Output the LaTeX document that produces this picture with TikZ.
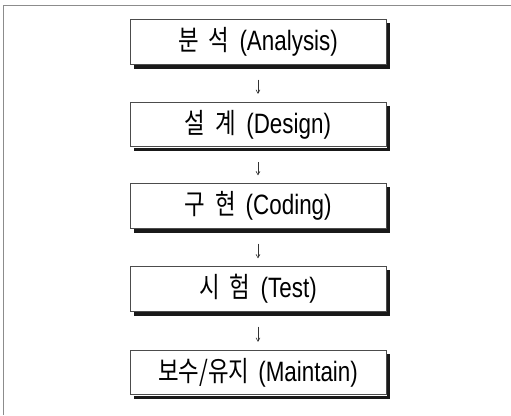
\documentclass[tikz,border=0pt]{standalone}
\usepackage{fontspec}
\setmainfont{Liberation Sans}
\newfontfamily\kr{Noto Sans CJK KR}
\usetikzlibrary{arrows.meta}
\newcommand{\lbl}[1]{\scalebox{0.8}[1]{\fontsize{28}{32}\selectfont #1}}
\begin{document}
\begin{tikzpicture}[x=1pt,y=-1pt,
  stagebox/.style={draw=black!70, line width=0.7pt, fill=white,
    minimum width=256pt, minimum height=44.5pt, inner sep=0pt},
  boxshadow/.style={draw=black!90, line width=3.6pt, line join=miter},
  flow/.style={-{Straight Barb[length=3.5pt,width=4pt]}, line width=0.6pt, draw=black!80,
    shorten <=15pt, shorten >=8pt},
  frameline/.style={draw=black!45, line width=1pt}]
\useasboundingbox (0,0) rectangle (511,415);
\coordinate (ftl) at (3,5);
\coordinate (ftr) at (511,5);
\coordinate (fbl) at (3,415);
\draw[frameline] (ftr) -- (ftl) -- (fbl);
\node[stagebox] (a) at (258,42) {\lbl{{\kr 분\hspace{0.45em}석}\hspace{0.45em}(Analysis)}};
\node[stagebox] (d) at (258,124.5) {\lbl{{\kr 설\hspace{0.45em}계}\hspace{0.45em}(Design)}};
\node[stagebox] (c) at (258,206) {\lbl{{\kr 구\hspace{0.45em}현}\hspace{0.45em}(Coding)}};
\node[stagebox] (t) at (258,289) {\lbl{{\kr 시\hspace{0.45em}험}\hspace{0.45em}(Test)}};
\node[stagebox] (m) at (258,372.5) {\lbl{{\kr 보수/유지}\hspace{0.4em}(Maintain)}};
\draw[boxshadow] ([shift={(2.2,4)}]a.north east) -- ([shift={(2.2,2.2)}]a.south east) -- ([shift={(4,2.2)}]a.south west);
\draw[boxshadow] ([shift={(2.2,4)}]d.north east) -- ([shift={(2.2,2.2)}]d.south east) -- ([shift={(4,2.2)}]d.south west);
\draw[boxshadow] ([shift={(2.2,4)}]c.north east) -- ([shift={(2.2,2.2)}]c.south east) -- ([shift={(4,2.2)}]c.south west);
\draw[boxshadow] ([shift={(2.2,4)}]t.north east) -- ([shift={(2.2,2.2)}]t.south east) -- ([shift={(4,2.2)}]t.south west);
\draw[boxshadow] ([shift={(2.2,4)}]m.north east) -- ([shift={(2.2,2.2)}]m.south east) -- ([shift={(4,2.2)}]m.south west);
\draw[flow] (a) -- (d);
\draw[flow] (d) -- (c);
\draw[flow] (c) -- (t);
\draw[flow] (t) -- (m);
\end{tikzpicture}
\end{document}
